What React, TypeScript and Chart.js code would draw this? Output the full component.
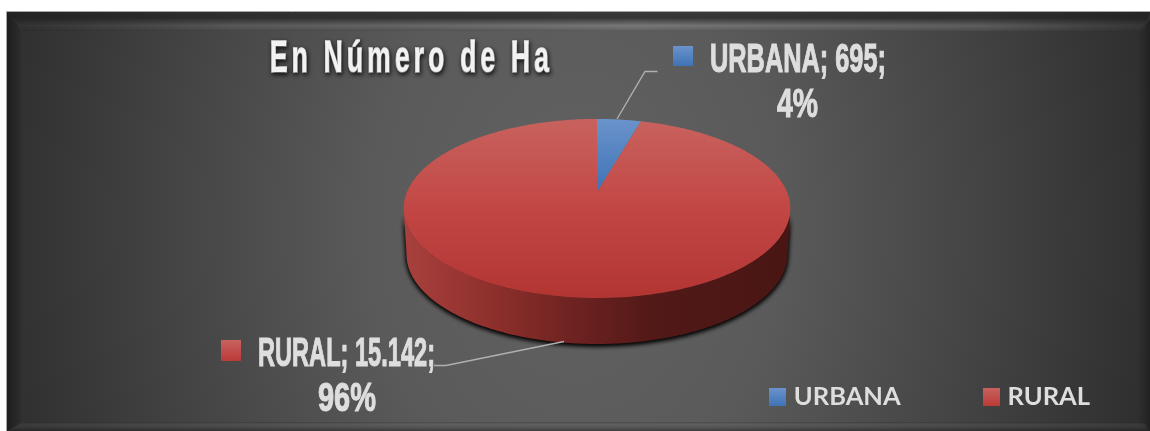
import React, { useEffect, useRef } from "react";
import { Chart, registerables } from "chart.js";

Chart.register(...registerables);

const TITLE = "En Número de Ha";
const CATEGORIES = ["URBANA", "RURAL"];
const HECTARES = [695, 15142];
const VALUE_LABELS = ["695", "15.142"];

const W = 1150;
const H = 431;
const NARROW = '"Liberation Sans Narrow", "Liberation Sans", sans-serif';

// perspective projection of the pie's unit disc on the page
const P = { cx: 597, cy: 192, a: 190, b: 86.5, k: 0.184, depth: 46 };
function proj(theta: number, rho = 1, dy = 0, sx = 1) {
  const u = Math.sin(theta) * rho;
  const v = Math.cos(theta) * rho;
  const w = 1 + P.k * v;
  return { x: P.cx + (P.a * sx * u) / w, y: P.cy - (P.b * v) / w + dy };
}

function vGrad(ctx: CanvasRenderingContext2D, y0: number, y1: number, stops: [number, string][]) {
  const g = ctx.createLinearGradient(0, y0, 0, y1);
  stops.forEach(([o, c]) => g.addColorStop(o, c));
  return g;
}

const SLICE_TOP: [number, string][][] = [
  [[0, "#6a93cb"], [1, "#3f73b6"]],
  [[0, "#c8625e"], [0.5, "#c24744"], [1, "#b23532"]],
];

function swatch(stops: [number, string][]) {
  const c = document.createElement("canvas");
  c.width = 17;
  c.height = 18;
  const x = c.getContext("2d")!;
  x.fillStyle = vGrad(x, 0, 18, stops);
  x.fillRect(0, 0, 17, 18);
  return c;
}

function poly(ctx: CanvasRenderingContext2D, pts: { x: number; y: number }[]) {
  ctx.beginPath();
  pts.forEach((p, i) => (i ? ctx.lineTo(p.x, p.y) : ctx.moveTo(p.x, p.y)));
  ctx.closePath();
}

function drawFrame(ctx: CanvasRenderingContext2D) {
  const L = 7, T = 12, R = W, B = H;
  ctx.save();
  ctx.fillStyle = "#ffffff";
  ctx.fillRect(0, 0, W, H);
  // body: wide radial glow
  ctx.save();
  ctx.beginPath();
  ctx.rect(L, T, R - L, B - T);
  ctx.clip();
  ctx.translate(575, 225);
  ctx.scale(1, 1.35);
  const g = ctx.createRadialGradient(0, 0, 0, 0, 0, 590);
  g.addColorStop(0, "#626262");
  g.addColorStop(0.35, "#5a5a5a");
  g.addColorStop(0.7, "#434343");
  g.addColorStop(1, "#2e2e2e");
  ctx.fillStyle = g;
  ctx.fillRect(-700, -400, 1400, 800);
  ctx.restore();

  // top bevel
  const topG = ctx.createLinearGradient(0, T, 0, 31);
  topG.addColorStop(0, "#3a3a3a");
  topG.addColorStop(0.3, "#353535");
  topG.addColorStop(0.72, "rgba(120,120,120,1)");
  topG.addColorStop(0.95, "rgba(100,100,100,1)");
  topG.addColorStop(1, "rgba(85,85,85,1)");
  ctx.fillStyle = topG;
  poly(ctx, [{ x: L, y: T }, { x: R, y: T }, { x: R - 6, y: 31 }, { x: L + 16, y: 31 }]);
  ctx.fill();
  const shade = ctx.createLinearGradient(L, 0, R, 0);
  shade.addColorStop(0, "rgba(30,30,30,0.8)");
  shade.addColorStop(0.2, "rgba(30,30,30,0.35)");
  shade.addColorStop(0.55, "rgba(30,30,30,0)");
  shade.addColorStop(0.85, "rgba(30,30,30,0.3)");
  shade.addColorStop(1, "rgba(30,30,30,0.75)");
  ctx.fillStyle = shade;
  poly(ctx, [{ x: L, y: T }, { x: R, y: T }, { x: R - 6, y: 31 }, { x: L + 16, y: 31 }]);
  ctx.fill();

  // left bevel
  const leftG = ctx.createLinearGradient(L, 0, L + 16, 0);
  leftG.addColorStop(0, "#1e1e1e");
  leftG.addColorStop(0.7, "#2a2a2a");
  leftG.addColorStop(1, "#333333");
  ctx.fillStyle = leftG;
  poly(ctx, [{ x: L, y: T }, { x: L + 16, y: 31 }, { x: L + 16, y: 423 }, { x: L, y: B }]);
  ctx.fill();

  // right bevel
  const rightG = ctx.createLinearGradient(R - 12, 0, R, 0);
  rightG.addColorStop(0, "rgba(25,25,25,0)");
  rightG.addColorStop(1, "rgba(25,25,25,0.6)");
  ctx.fillStyle = rightG;
  poly(ctx, [{ x: R, y: T + 8 }, { x: R - 12, y: 31 }, { x: R - 12, y: 423 }, { x: R, y: B }]);
  ctx.fill();

  // bottom bevel
  const botG = ctx.createLinearGradient(0, 422, 0, B);
  botG.addColorStop(0, "rgba(20,20,20,0.3)");
  botG.addColorStop(0.25, "rgba(110,110,110,0.18)");
  botG.addColorStop(1, "rgba(20,20,20,0.45)");
  ctx.fillStyle = botG;
  poly(ctx, [{ x: L + 16, y: 422 }, { x: R - 6, y: 422 }, { x: R, y: B }, { x: L, y: B }]);
  ctx.fill();

  // thin light outline on the top and left
  ctx.strokeStyle = "#a6a6a6";
  ctx.lineWidth = 1;
  ctx.beginPath();
  ctx.moveTo(L - 0.5, B);
  ctx.lineTo(L - 0.5, T - 0.5);
  ctx.lineTo(R, T - 0.5);
  ctx.stroke();
  ctx.restore();
}

function fitText(ctx: CanvasRenderingContext2D, s: string, x0: number, x1: number, base: number, size: number) {
  ctx.save();
  ctx.font = `bold ${size}px ${NARROW}`;
  ctx.textAlign = "left";
  ctx.textBaseline = "alphabetic";
  ctx.fillStyle = "#dedede";
  ctx.strokeStyle = "#dedede";
  ctx.lineWidth = 1.1;
  ctx.lineJoin = "miter";
  const m = ctx.measureText(s).width;
  ctx.translate(x0, base);
  ctx.scale((x1 - x0) / m, 1);
  ctx.strokeText(s, 0, 0);
  ctx.fillText(s, 0, 0);
  ctx.restore();
}

const piePlugin = {
  id: "pie3d",
  beforeDraw(chart: any) {
    drawFrame(chart.ctx);
    // the title gets letter spacing, a narrower, heavier face and a soft shadow
    const tb = chart.titleBlock;
    if (tb && !tb.__wrapped) {
      const orig = tb.draw.bind(tb);
      tb.draw = function (...args: any[]) {
        const c: any = chart.ctx;
        c.save();
        c.translate(tb.left, 0);
        c.scale(0.6, 1);
        c.translate(-tb.left, 0);
        c.letterSpacing = "7px";
        c.shadowColor = "rgba(0,0,0,0.75)";
        c.shadowBlur = 4;
        c.shadowOffsetX = 1;
        c.shadowOffsetY = 2;
        c.lineWidth = 1.6;
        const protoFill = c.fillText;
        c.fillText = function (s: string, x: number, y: number, mw?: number) {
          c.strokeStyle = c.fillStyle;
          c.strokeText(s, x, y);
          if (mw === undefined) protoFill.call(c, s, x, y);
          else protoFill.call(c, s, x, y, mw);
        };
        orig(...args);
        delete c.fillText;
        c.restore();
      };
      tb.__wrapped = true;
    }
  },
  beforeDatasetsDraw(chart: any) {
    const ctx: CanvasRenderingContext2D = chart.ctx;
    const arcs = chart.getDatasetMeta(0).data;
    const N = 180;
    const wideA = Math.acos(-P.k);
    const wideB = 2 * Math.PI - wideA;
    arcs.forEach((arc: any) => {
      const t0 = arc.startAngle + Math.PI / 2;
      const t1 = arc.endAngle + Math.PI / 2;
      const a = Math.max(t0, wideA);
      const b = Math.min(t1, wideB);
      if (b <= a) return;
      const pts: { x: number; y: number }[] = [];
      for (let j = 0; j <= N; j++) pts.push(proj(a + ((b - a) * j) / N));
      for (let j = N; j >= 0; j--) pts.push(proj(a + ((b - a) * j) / N, 1, P.depth, 0.985));
      ctx.save();
      ctx.shadowColor = "rgba(0,0,0,0.95)";
      ctx.shadowBlur = 5;
      ctx.shadowOffsetY = 1.5;
      const g = ctx.createLinearGradient(404, 0, 790, 0);
      g.addColorStop(0, "#a8413e");
      g.addColorStop(0.22, "#8f302c");
      g.addColorStop(0.45, "#6c2220");
      g.addColorStop(0.65, "#511917");
      g.addColorStop(1, "#491614");
      ctx.fillStyle = g;
      poly(ctx, pts);
      ctx.fill();
      ctx.fill();
      ctx.restore();
    });
    arcs.forEach((arc: any, i: number) => {
      const t0 = arc.startAngle + Math.PI / 2;
      const t1 = arc.endAngle + Math.PI / 2;
      const pts = [proj(0, 0)];
      for (let j = 0; j <= 360; j++) pts.push(proj(t0 + ((t1 - t0) * j) / 360));
      const ys = pts.map((p) => p.y);
      const minY = i === 0 ? Math.min(...ys) : 119;
      const maxY = i === 0 ? Math.max(...ys) : 298;
      ctx.fillStyle = vGrad(ctx, minY, maxY, SLICE_TOP[i]);
      poly(ctx, pts);
      ctx.fill();
    });
    return false;
  },
  afterDraw(chart: any) {
    const ctx: CanvasRenderingContext2D = chart.ctx;
    const total = HECTARES.reduce((s, v) => s + v, 0);
    const pct = HECTARES.map((v) => `${Math.round((v / total) * 100)}%`);

    // leader lines
    ctx.save();
    ctx.strokeStyle = "#b0b0b0";
    ctx.lineWidth = 1.4;
    ctx.beginPath();
    ctx.moveTo(617, 119);
    ctx.lineTo(645, 71.5);
    ctx.lineTo(657.5, 71.5);
    ctx.moveTo(434, 365.5);
    ctx.lineTo(446, 365.5);
    ctx.lineTo(564, 341.5);
    ctx.stroke();
    ctx.restore();

    // label keys
    ctx.fillStyle = vGrad(ctx, 46, 66, SLICE_TOP[0]);
    ctx.fillRect(673, 46, 20, 20);
    ctx.fillStyle = vGrad(ctx, 340, 361, [[0, "#c8625e"], [1, "#bb3a37"]]);
    ctx.fillRect(221, 340, 20, 21);

    // data labels
    fitText(ctx, `${CATEGORIES[0]}; ${VALUE_LABELS[0]};`, 710, 886, 72, 40);
    fitText(ctx, pct[0], 777, 818, 117, 40);
    fitText(ctx, `${CATEGORIES[1]}; ${VALUE_LABELS[1]};`, 258, 435, 366, 40);
    fitText(ctx, pct[1], 318, 376, 411, 40);
  },
};

export default function App() {
  const ref = useRef<HTMLCanvasElement>(null);
  useEffect(() => {
    document.body.style.margin = "0";
    const chart = new Chart(ref.current!, {
      type: "pie",
      plugins: [piePlugin as any],
      data: {
        labels: CATEGORIES,
        datasets: [
          {
            data: HECTARES,
            backgroundColor: ["#4f81bd", "#c0504d"],
            borderWidth: 0,
          },
        ],
      },
      options: {
        animation: false,
        responsive: false,
        events: [],
        layout: { padding: { left: 270, right: -27, top: 0, bottom: 11 } },
        plugins: {
          tooltip: { enabled: false },
          title: {
            display: true,
            text: TITLE,
            align: "start",
            color: "#f2f2f2",
            font: { family: NARROW, size: 44, weight: "bold" },
            padding: { top: 33, bottom: 0 },
          },
          legend: {
            display: true,
            position: "bottom",
            align: "end",
            labels: {
              color: "#dedede",
              font: { family: "Lato, sans-serif", size: 25.5, weight: "bold" },
              usePointStyle: true,
              pointStyleWidth: 7,
              padding: 87,
              generateLabels: () =>
                CATEGORIES.map((text, i) => ({
                  text,
                  index: i,
                  fontColor: "#dedede",
                  lineWidth: 0,
                  strokeStyle: "transparent",
                  pointStyle: swatch(i === 0 ? SLICE_TOP[0] : [[0, "#c8625e"], [1, "#bb3a37"]]),
                })),
            } as any,
          },
        },
      },
    } as any);
    return () => chart.destroy();
  }, []);
  return (
    <canvas
      ref={ref}
      width={W}
      height={H}
      style={{ display: "block", width: W, height: H }}
    />
  );
}
